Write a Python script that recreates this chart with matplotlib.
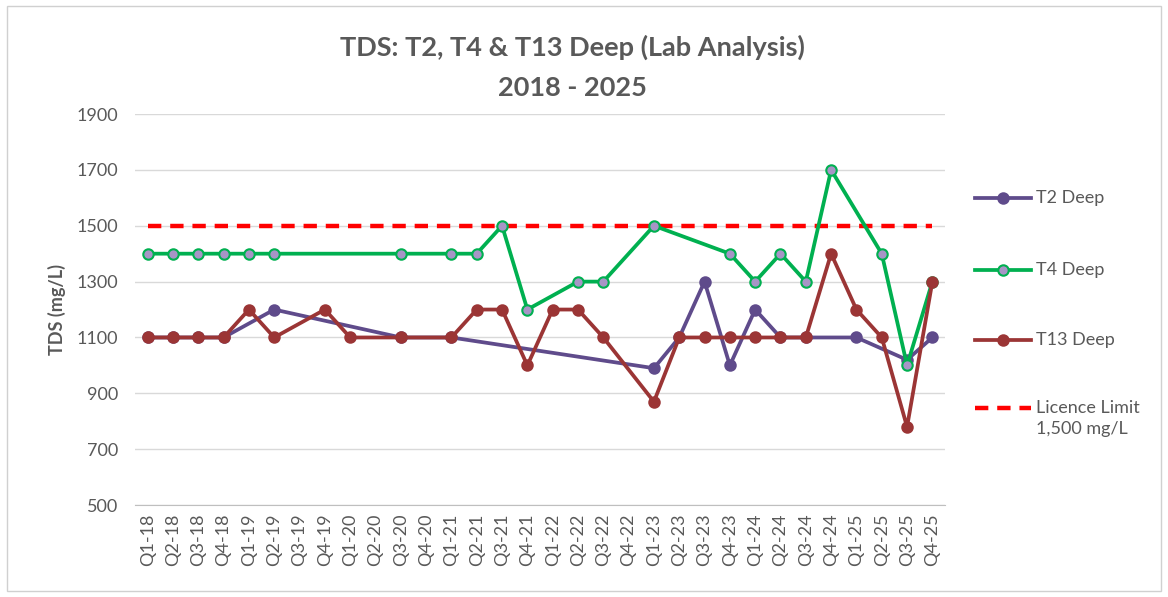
import numpy as np
import matplotlib
matplotlib.use("Agg")
import matplotlib.pyplot as plt
from matplotlib.patches import Rectangle
from matplotlib.lines import Line2D

plt.rcParams["font.family"] = ["Lato", "DejaVu Sans"]

quarters = [f"Q{q}-{y}" for y in range(18, 26) for q in range(1, 5)]

nan = np.nan
t2_deep = [1100, 1100, 1100, 1100, nan, 1200, nan, nan,
           nan, nan, 1100, nan, 1100, nan, nan, nan,
           nan, nan, nan, nan, 990, 1100, 1300, 1000,
           1200, 1100, 1100, nan, 1100, nan, 1020, 1100]
t4_deep = [1400, 1400, 1400, 1400, 1400, 1400, nan, nan,
           nan, nan, 1400, nan, 1400, 1400, 1500, 1200,
           nan, 1300, 1300, nan, 1500, nan, nan, 1400,
           1300, 1400, 1300, 1700, nan, 1400, 1000, 1300]
t13_deep = [1100, 1100, 1100, 1100, 1200, 1100, nan, 1200,
            1100, nan, 1100, nan, 1100, 1200, 1200, 1000,
            1200, 1200, 1100, nan, 870, 1100, 1100, 1100,
            1100, 1100, 1100, 1400, 1200, 1100, 780, 1300]
licence_limit = 1500

grey = "#595959"
W, H = 1168, 597

fig = plt.figure(figsize=(11.68, 5.97), dpi=100)
ax = fig.add_axes([0.1156, 0.154, 0.6935, 0.655])

x = np.arange(len(quarters))

styles = {
    "T2 Deep": ("#5F4B8B", "#5F4B8B"),
    "T4 Deep": ("#00B050", "#A795C6"),
    "T13 Deep": ("#9B3535", "#9B3535"),
}


def plot_series(vals, label):
    color, face = styles[label]
    v = np.array(vals, dtype=float)
    m = ~np.isnan(v)
    ax.plot(x[m], v[m], "-o", color=color, lw=2.7, ms=7.5,
            mfc=face, mec=color, mew=1.5, zorder=3)


ax.plot(x, [licence_limit] * len(x), "--", color="#FF0000", lw=3.2,
        dashes=(3, 2), zorder=2)
plot_series(t2_deep, "T2 Deep")
plot_series(t4_deep, "T4 Deep")
plot_series(t13_deep, "T13 Deep")

ax.set_xlim(-0.5, len(x) - 0.5)
ax.set_ylim(500, 1900)
ax.set_yticks(range(500, 1901, 200))
ax.set_xticks(x)
ax.set_xticklabels(quarters, rotation=90)
ax.tick_params(axis="both", colors=grey, labelsize=13, length=0)
ax.tick_params(axis="x", pad=6)
ax.tick_params(axis="y", pad=12)
ax.grid(axis="y", color="#D9D9D9", lw=1)
ax.set_axisbelow(True)
for s in ["top", "right", "left"]:
    ax.spines[s].set_visible(False)
ax.spines["bottom"].set_color("#BFBFBF")

ax.set_ylabel("TDS (mg/L)", fontsize=13, fontweight="bold", color=grey, labelpad=8)

fig.text(572 / W, 1 - 47 / H, "TDS: T2, T4 & T13 Deep (Lab Analysis)",
         ha="center", va="center", fontsize=19.5, fontweight="bold", color=grey)
fig.text(572 / W, 1 - 88 / H, "2018 - 2025",
         ha="center", va="center", fontsize=19.5, fontweight="bold", color=grey)

# legend drawn by hand so the licence key sits on the first text line
legend_rows = [("T2 Deep", 198), ("T4 Deep", 270), ("T13 Deep", 340)]
for label, yp in legend_rows:
    color, face = styles[label]
    yf = 1 - yp / H
    fig.add_artist(Line2D([975 / W, 1031 / W], [yf, yf], color=color, lw=2.7,
                          transform=fig.transFigure))
    fig.add_artist(Line2D([1003 / W], [yf], marker="o", ms=7.5, mfc=face, mec=color,
                          mew=1.5, transform=fig.transFigure))
    fig.text(1036 / W, yf, label, ha="left", va="center", fontsize=13, color=grey)
yf = 1 - 408 / H
fig.add_artist(Line2D([975 / W, 1031 / W], [yf, yf], color="#FF0000", lw=3.2,
                      ls="--", dashes=(3, 2), transform=fig.transFigure))
fig.text(1036 / W, yf + 8 / H, "Licence Limit\n1,500 mg/L", ha="left", va="top",
         fontsize=13, color=grey, linespacing=1.35)

fig.patches.append(Rectangle((0.006, 0.01), 0.988, 0.98, transform=fig.transFigure,
                             fill=False, edgecolor="#D0D0D0", lw=1))

fig.savefig("out.png", dpi=100)
